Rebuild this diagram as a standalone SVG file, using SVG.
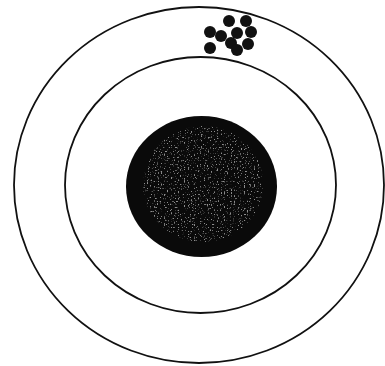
<svg xmlns="http://www.w3.org/2000/svg" width="385" height="366" viewBox="0 0 385 366">
<style>
.ring{fill:none;stroke:#111;stroke-width:1.8}
.shot{fill:#111}
</style>
<defs>
<filter id="speck" x="0" y="0" width="100%" height="100%">
<feTurbulence type="fractalNoise" baseFrequency="0.7" numOctaves="1" seed="3" result="n"/>
<feColorMatrix in="n" type="matrix" values="0 0 0 0 0.8  0 0 0 0 0.8  0 0 0 0 0.8  0 0 9 0 -5.4" result="s"/>
<feComposite in="s" in2="SourceGraphic" operator="in"/>
</filter>
</defs>
<rect width="385" height="366" fill="#fff"/>
<g id="outer-ring"><ellipse class="ring" cx="199" cy="185" rx="185" ry="178"/></g>
<g id="inner-ring"><ellipse class="ring" cx="200.5" cy="185" rx="135.5" ry="128"/></g>
<g id="bullseye">
<ellipse cx="201.5" cy="186.5" rx="75.5" ry="70.5" fill="#0a0a0a"/>
<ellipse cx="203" cy="184" rx="60" ry="58" fill="#fff" filter="url(#speck)" opacity="0.6"/>
</g>
<g id="shots">
<circle class="shot" cx="229" cy="21" r="6"/>
<circle class="shot" cx="246" cy="21" r="6"/>
<circle class="shot" cx="210" cy="32" r="6"/>
<circle class="shot" cx="221" cy="36" r="6"/>
<circle class="shot" cx="237" cy="33" r="6"/>
<circle class="shot" cx="251" cy="32" r="6"/>
<circle class="shot" cx="231" cy="43" r="6"/>
<circle class="shot" cx="248" cy="44" r="6"/>
<circle class="shot" cx="237" cy="50" r="6"/>
<circle class="shot" cx="210" cy="48" r="6"/>
</g>
</svg>
